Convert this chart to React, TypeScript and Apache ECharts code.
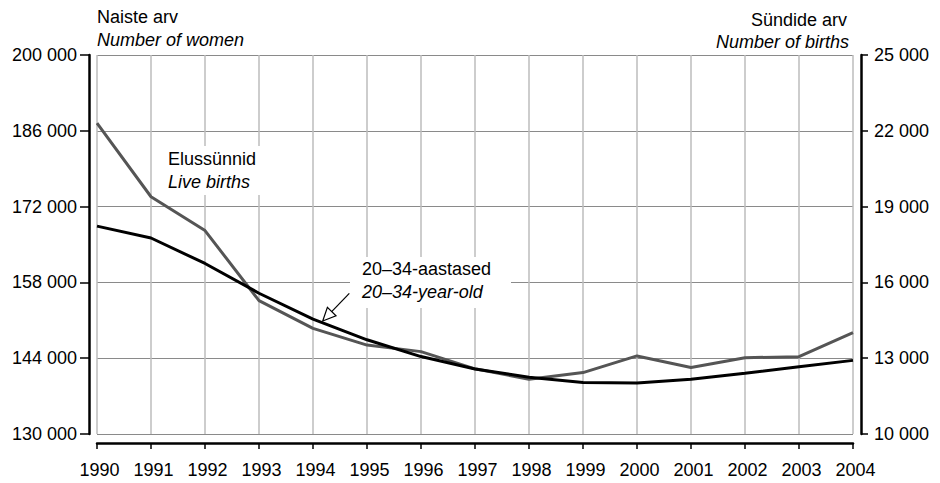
import React, { useEffect, useRef } from "react";
import * as echarts from "echarts";

const years = ["1990","1991","1992","1993","1994","1995","1996","1997","1998","1999","2000","2001","2002","2003","2004"];
// Number of women aged 20–34 (left axis)
const women = [168400, 166200, 161500, 156000, 151200, 147400, 144300, 142000, 140500, 139500, 139400, 140100, 141200, 142400, 143600];
// Live births (right axis)
const births = [22300, 19390, 18050, 15280, 14180, 13520, 13260, 12580, 12170, 12430, 13090, 12630, 13020, 13060, 14010];

const leftMin = 130000;
const leftMax = 200000;
const leftStep = 14000;
const rightMin = 10000;
const rightMax = 25000;
const rightStep = 3000;

const FONT = "'Liberation Sans', Arial, Helvetica, sans-serif";

const fmt = (v: number) => String(Math.round(v)).replace(/\B(?=(\d{3})+(?!\d))/g, " ");

export default function App() {
  const ref = useRef<HTMLDivElement>(null);
  useEffect(() => {
    if (!ref.current) return;
    const chart = echarts.init(ref.current, undefined, { renderer: "svg" });
    const txt = (text: string, x: number, y: number, align: string, italic = false) => ({
      type: "text",
      z: 10,
      x,
      y,
      style: {
        text,
        fontSize: 18,
        fontFamily: FONT,
        fontStyle: italic ? "italic" : "normal",
        fill: "#000",
        align,
        verticalAlign: "middle",
      },
    });
    chart.setOption({
      animation: false,
      backgroundColor: "#fff",
      grid: { left: 97, right: 87, top: 55, bottom: 49, containLabel: false },
      xAxis: {
        type: "category",
        data: years,
        boundaryGap: false,
        offset: 9,
        axisLine: { show: true, onZero: false, lineStyle: { color: "#000", width: 2.5 } },
        axisTick: { show: true, length: 6, inside: false, lineStyle: { color: "#000", width: 1.5 } },
        axisLabel: { color: "#000", fontSize: 18, fontFamily: FONT, margin: 18, padding: [0, 0, 0, 5] },
        splitLine: { show: true, lineStyle: { color: "#bdbdbd", width: 1.5 } },
      },
      yAxis: [
        {
          type: "value",
          position: "left",
          min: 0,
          max: leftMax - leftMin,
          interval: leftStep,
          offset: 8,
          axisLine: { show: true, onZero: false, lineStyle: { color: "#000", width: 2.5 } },
          axisTick: { show: true, length: 9, lineStyle: { color: "#000", width: 1.5 } },
          axisLabel: { color: "#000", fontSize: 18, fontFamily: FONT, margin: 12, formatter: (v: number) => fmt(v + leftMin) },
          splitLine: { show: true, lineStyle: { color: "#8a8a8a", width: 1 } },
        },
        {
          type: "value",
          position: "right",
          min: 0,
          max: rightMax - rightMin,
          interval: rightStep,
          offset: 8,
          axisLine: { show: true, onZero: false, lineStyle: { color: "#000", width: 2.5 } },
          axisTick: { show: true, length: 7, lineStyle: { color: "#000", width: 1.5 } },
          axisLabel: { color: "#000", fontSize: 18, fontFamily: FONT, margin: 13, formatter: (v: number) => fmt(v + rightMin) },
          splitLine: { show: false },
        },
      ],
      series: [
        {
          name: "Elussünnid",
          type: "line",
          yAxisIndex: 1,
          z: 3,
          data: births.map((b) => b - rightMin),
          symbol: "none",
          lineStyle: { color: "#555555", width: 3 },
        },
        {
          name: "20–34-aastased",
          type: "line",
          yAxisIndex: 0,
          z: 4,
          data: women.map((w) => w - leftMin),
          symbol: "none",
          lineStyle: { color: "#000000", width: 3 },
        },
      ],
      graphic: [
        { type: "rect", z: 1, shape: { x: 152, y: 146, width: 113, height: 49 }, style: { fill: "#fff" } },
        { type: "rect", z: 1, shape: { x: 350, y: 257, width: 161, height: 51 }, style: { fill: "#fff" } },
        txt("Naiste arv", 97, 17, "left"),
        txt("Number of women", 97, 39.5, "left", true),
        txt("Sündide arv", 847, 19.5, "right"),
        txt("Number of births", 849, 42, "right", true),
        txt("Elussünnid", 168, 159, "left"),
        txt("Live births", 168, 182, "left", true),
        txt("20–34-aastased", 362, 269, "left"),
        txt("20–34-year-old", 362, 292, "left", true),
        {
          type: "line",
          z: 10,
          shape: { x1: 349.3, y1: 293.3, x2: 331.7, y2: 311.6 },
          style: { stroke: "#000", lineWidth: 1.2 },
        },
        {
          type: "polygon",
          z: 10,
          shape: { points: [[322.7, 321], [336.0, 315.8], [327.4, 307.4]] },
          style: { fill: "#fff", stroke: "#000", lineWidth: 1.2 },
        },
      ],
    });
    return () => chart.dispose();
  }, []);
  return <div ref={ref} style={{ position: "fixed", left: 0, top: 0, width: 940, height: 483 }} />;
}
